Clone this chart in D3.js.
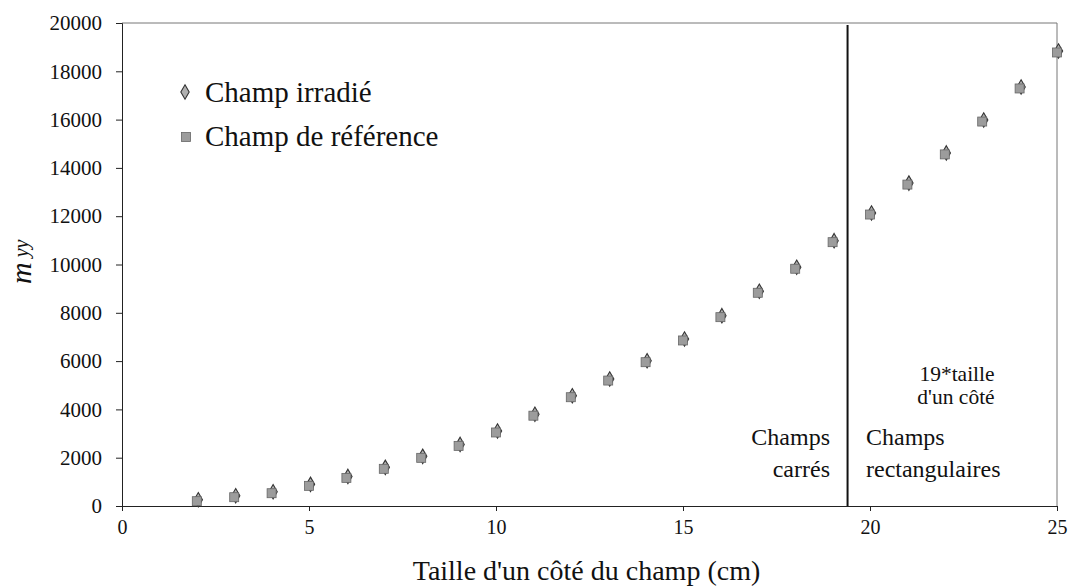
<!DOCTYPE html>
<html>
<head>
<meta charset="utf-8">
<script src="https://cdn.jsdelivr.net/npm/d3@7"></script>
<style>
  html, body { margin: 0; padding: 0; background: #fff; }
  svg { display: block; }
  svg text { font-family: "Liberation Serif", "Times New Roman", Times, Tinos, "DejaVu Serif", serif !important; fill: #111; }
</style>
</head>
<body>
<svg id="chart" width="1070" height="588"></svg>
<script>
// Field side length (cm)
const sides = [2, 3, 4, 5, 6, 7, 8, 9, 10, 11, 12, 13, 14, 15, 16, 17, 18, 19, 20, 21, 22, 23, 24, 25];
// m_yy for the irradiated field
const irradie = [220, 385, 550, 855, 1185, 1560, 2015, 2510, 3065, 3760, 4525, 5215, 5975, 6875, 7840, 8850, 9845, 10945, 12090, 13330, 14580, 15940, 17310, 18800];
// m_yy for the reference field
const reference = [220, 385, 550, 855, 1185, 1560, 2015, 2510, 3065, 3760, 4525, 5215, 5975, 6875, 7840, 8850, 9845, 10945, 12090, 13330, 14580, 15940, 17310, 18800];
const xTicks = [0, 5, 10, 15, 20, 25];
const yTicks = [0, 2000, 4000, 6000, 8000, 10000, 12000, 14000, 16000, 18000, 20000];
const divider = 19.4; // boundary between square and rectangular fields
const seriesNames = ["Champ irradié", "Champ de référence"];

const svg = d3.select("#chart");
const margin = { left: 122, right: 13, top: 23, bottom: 82 };
const W = 1070, H = 588;
const serif = "'Liberation Serif', 'Times New Roman', Times, Tinos, 'DejaVu Serif', serif";

const x = d3.scaleLinear().domain([0, 25]).range([margin.left, W - margin.right]);
const y = d3.scaleLinear().domain([0, 20000]).range([H - margin.bottom, margin.top]);

// plot frame (top and right)
svg.append("path")
  .attr("d", `M${x(0)},${y(20000)}H${x(25)}V${y(0)}`)
  .attr("fill", "none").attr("stroke", "#777").attr("stroke-width", 1);

// x axis
const gx = svg.append("g").attr("transform", `translate(0,${y(0)})`)
  .call(d3.axisBottom(x).tickValues(xTicks).tickSize(5).tickPadding(9).tickFormat(d3.format("d")));
gx.attr("font-family", serif).attr("font-size", 20);
gx.select(".domain").attr("stroke", "#222");
gx.selectAll(".tick line").attr("stroke", "#222");
gx.selectAll(".tick text").attr("fill", "#111");

// y axis
const gy = svg.append("g").attr("transform", `translate(${x(0)},0)`)
  .call(d3.axisLeft(y).tickValues(yTicks).tickSize(6).tickPadding(14).tickFormat(d3.format("d")));
gy.attr("font-family", serif).attr("font-size", 21);
gy.select(".domain").attr("stroke", "#222");
gy.selectAll(".tick line").attr("stroke", "#222");
gy.selectAll(".tick text").attr("fill", "#111");

// divider between square and rectangular fields
svg.append("line")
  .attr("x1", x(divider)).attr("x2", x(divider))
  .attr("y1", y(20000) + 2).attr("y2", y(0))
  .attr("stroke", "#111").attr("stroke-width", 2);

// markers
const diamond = d3.symbol().type(d3.symbolDiamond).size(60);
function drawDiamond(g, cx, cy) {
  g.append("path").attr("d", diamond()).attr("transform", `translate(${cx},${cy})`)
    .attr("fill", "#b0b0b0").attr("stroke", "#333").attr("stroke-width", 1.1);
}
function drawSquare(g, cx, cy) {
  g.append("rect").attr("x", cx - 4.5).attr("y", cy - 4.5).attr("width", 9).attr("height", 9)
    .attr("fill", "#9c9c9c").attr("stroke", "#666").attr("stroke-width", 0.8);
}
const marks = svg.append("g");
sides.forEach((s, i) => {
  drawDiamond(marks, x(s) + 1.5, y(irradie[i]) - 1);
});
sides.forEach((s, i) => {
  drawSquare(marks, x(s), y(reference[i]) + 0.5);
});

// legend
const leg = svg.append("g").attr("font-family", serif);
drawDiamond(leg, 185, 92);
drawSquare(leg, 186, 137);
leg.append("text").attr("x", 205).attr("y", 102).attr("font-size", 29).text(seriesNames[0]);
leg.append("text").attr("x", 205).attr("y", 146).attr("font-size", 29).text(seriesNames[1]);

// axis titles
svg.append("text").attr("x", (x(0) + x(25)) / 2 - 3).attr("y", 580)
  .attr("font-family", serif)
  .attr("text-anchor", "middle").attr("font-size", 28)
  .text("Taille d'un côté du champ (cm)");

const yl = svg.append("text").attr("transform", "translate(31,284) rotate(-90)")
  .attr("font-family", serif).attr("font-style", "italic");
yl.append("tspan").attr("font-size", 30).text("m");
yl.append("tspan").attr("font-size", 20).attr("dx", 5).attr("dy", -3).text("yy");

// region annotations
const ann = svg.append("g").attr("font-family", serif).attr("font-size", 24);
ann.append("text").attr("x", 830).attr("y", 445).attr("text-anchor", "end").text("Champs");
ann.append("text").attr("x", 830).attr("y", 477).attr("text-anchor", "end").text("carrés");
ann.append("text").attr("x", 866).attr("y", 445).text("Champs");
ann.append("text").attr("x", 866).attr("y", 477).text("rectangulaires");

const note = svg.append("g").attr("font-family", serif).attr("font-size", 21.5).attr("text-anchor", "middle");
note.append("text").attr("x", 957).attr("y", 381).text("19*taille");
note.append("text").attr("x", 956).attr("y", 404).text("d'un côté");
</script>
</body>
</html>
